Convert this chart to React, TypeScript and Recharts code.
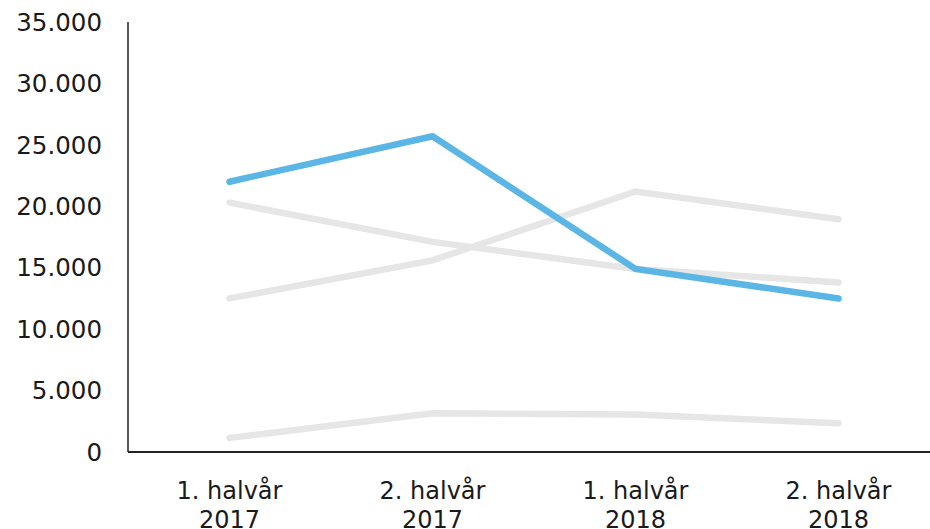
import { LineChart, Line, XAxis, YAxis } from "recharts";

const periods = ["1. halvår|2017", "2. halvår|2017", "1. halvår|2018", "2. halvår|2018"];
const highlighted = [22000, 25700, 14900, 12500];
const greyA = [20300, 17100, 14900, 13800];
const greyB = [12500, 15600, 21200, 18950];
const greyC = [1150, 3150, 3050, 2350];
const yTicks = [0, 5000, 10000, 15000, 20000, 25000, 30000, 35000];

const data = periods.map((p, i) => ({
  period: p,
  main: highlighted[i],
  a: greyA[i],
  b: greyB[i],
  c: greyC[i],
}));

const font = "'DejaVu Sans', Verdana, sans-serif";
const fmt = (v: number) => v.toLocaleString("de-DE");

const PeriodTick = (props: any) => {
  const { x, y, payload } = props;
  const [l1, l2] = String(payload.value).split("|");
  return (
    <text x={x} y={y} textAnchor="middle" fill="#1a1a1a" fontSize={24} fontFamily={font}>
      <tspan x={x} dy={41}>{l1}</tspan>
      <tspan x={x} dy={29}>{l2}</tspan>
    </text>
  );
};

export default function App() {
  return (
    <div style={{ position: "absolute", left: 0, top: 0, width: 930, height: 529, overflow: "hidden", background: "#fff" }}>
      <LineChart width={950} height={529} data={data} margin={{ top: 22, right: 10, bottom: 7, left: 8 }}>
        <XAxis
          dataKey="period"
          tick={<PeriodTick />}
          tickLine={false}
          axisLine={{ stroke: "#222", strokeWidth: 2 }}
          padding={{ left: 101.5, right: 101.5 }}
          height={70}
          interval={0}
          tickMargin={0}
        />
        <YAxis
          width={120}
          domain={[0, 35000]}
          ticks={yTicks}
          tickFormatter={fmt}
          tickLine={false}
          tickSize={0}
          tickMargin={26}
          axisLine={{ stroke: "#222", strokeWidth: 1.5 }}
          tick={{ fill: "#1a1a1a", fontSize: 24.5, fontFamily: font }}
        />
        <Line dataKey="a" stroke="#e6e6e6" strokeWidth={6.5} dot={false} strokeLinecap="round" isAnimationActive={false} />
        <Line dataKey="b" stroke="#e6e6e6" strokeWidth={6.5} dot={false} strokeLinecap="round" isAnimationActive={false} />
        <Line dataKey="c" stroke="#e6e6e6" strokeWidth={6.5} dot={false} strokeLinecap="round" isAnimationActive={false} />
        <Line dataKey="main" stroke="#5bb5e5" strokeWidth={6.5} dot={false} strokeLinecap="round" isAnimationActive={false} />
      </LineChart>
    </div>
  );
}
